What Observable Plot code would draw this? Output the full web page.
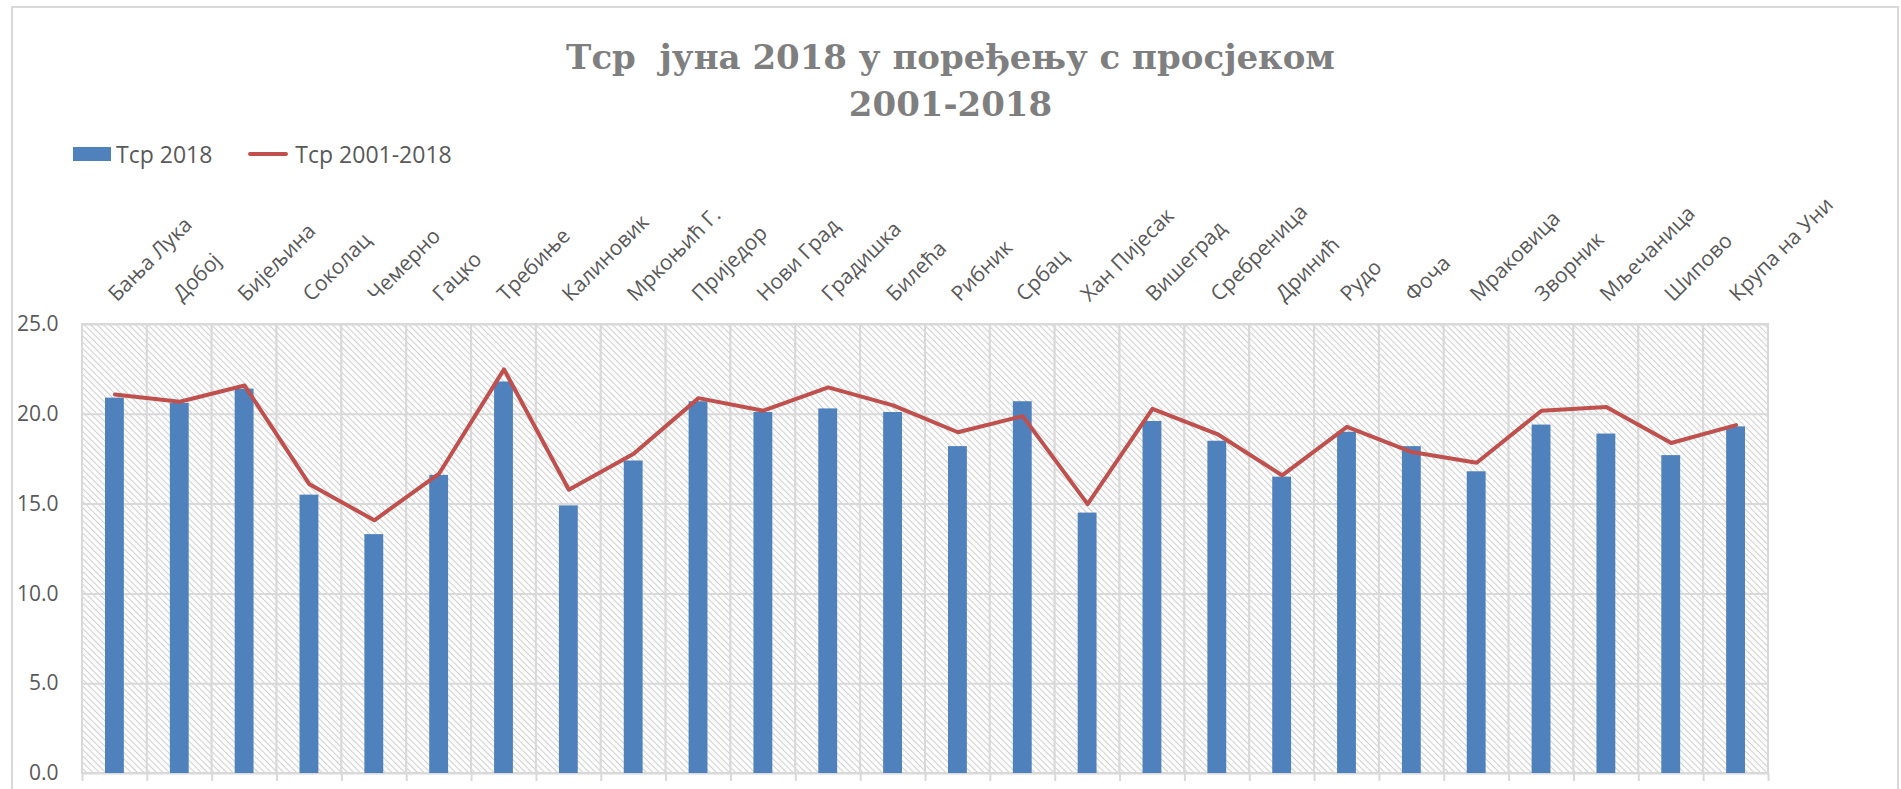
<!DOCTYPE html>
<html>
<head>
<meta charset="utf-8">
<script src="https://cdn.jsdelivr.net/npm/d3@7"></script>
<script src="https://cdn.jsdelivr.net/npm/@observablehq/plot@0.6"></script>
<style>
  html, body { margin: 0; padding: 0; background: #fff; }
  #chart { position: relative; width: 1901px; height: 789px; overflow: hidden; font-family: "Open Sans", sans-serif; color: #595959; }
  #border { position: absolute; left: 11px; top: 6px; width: 1888px; height: 900px; border: 2px solid #d9d9d9; box-sizing: border-box; }
  #title { position: absolute; left: 0; top: 34px; width: 1901px; text-align: center; font-family: "DejaVu Serif", serif; font-weight: bold; font-size: 34px; line-height: 47px; color: #7f7f7f; white-space: pre; }
  #legend { position: absolute; left: 73px; top: 141px; height: 26px; display: flex; align-items: center; font-size: 23px; color: #595959; }
  .sw-bar { width: 38px; height: 14px; background: #4f81bd; margin-right: 5px; }
  .sw-line { width: 40px; height: 4px; border-radius: 2px; background: #c0504d; margin-right: 7px; margin-left: 36px; }
  #plot { position: absolute; left: 0; top: 180px; }
</style>
</head>
<body>
<svg width="0" height="0" style="position:absolute">
  <defs>
    <pattern id="hatch" patternUnits="userSpaceOnUse" width="4.5" height="4.5" patternTransform="rotate(45)">
      <rect width="4.5" height="4.5" fill="#ffffff"></rect>
      <line x1="0" y1="2.25" x2="4.5" y2="2.25" stroke="#d0d0d0" stroke-width="1.1"></line>
    </pattern>
  </defs>
</svg>
<div id="chart">
  <div id="border"></div>
  <div id="title"></div>
  <div id="legend"></div>
  <div id="plot"></div>
</div>
<script>
const titleLines = ["Тср  јуна 2018 у поређењу с просјеком", "2001-2018"];
const seriesNames = ["Тср 2018", "Тср 2001-2018"];
const stations = ["Бања Лука","Добој","Бијељина","Соколац","Чемерно","Гацко","Требиње","Калиновик","Мркоњић Г.","Приједор","Нови Град","Градишка","Билећа","Рибник","Србац","Хан Пијесак","Вишеград","Сребреница","Дринић","Рудо","Фоча","Мраковица","Зворник","Мљечаница","Шипово","Крупа на Уни"];
const tsr2018 = [20.9,20.6,21.4,15.5,13.3,16.6,21.8,14.9,17.4,20.7,20.1,20.3,20.1,18.2,20.7,14.5,19.6,18.5,16.5,19.0,18.2,16.8,19.4,18.9,17.7,19.3];
const tsr2001_2018 = [21.1,20.7,21.6,16.1,14.1,16.7,22.5,15.8,17.8,20.9,20.2,21.5,20.5,19.0,19.9,15.0,20.3,18.9,16.6,19.3,17.9,17.3,20.2,20.4,18.4,19.4];
const yTicks = [0, 5, 10, 15, 20, 25];

// title & legend
document.getElementById("title").textContent = titleLines.join("\n");
const legend = document.getElementById("legend");
legend.innerHTML = `<div class="sw-bar"></div><span>${seriesNames[0]}</span><div class="sw-line"></div><span>${seriesNames[1]}</span>`;

const data = stations.map((s, i) => ({station: s, t2018: tsr2018[i], tavg: tsr2001_2018[i]}));

const W = 1901, H = 609, mL = 82, mR = 133, mT = 144, mB = 16;
const step = (W - mL - mR) / stations.length;

const plot = Plot.plot({
  width: W,
  height: H,
  marginTop: mT,
  marginBottom: mB,
  marginLeft: mL,
  marginRight: mR,
  style: {fontFamily: '"Open Sans", sans-serif', fontSize: "21px", color: "#595959", background: "transparent", overflow: "visible"},
  x: {type: "band", domain: stations, padding: 0, round: false},
  y: {domain: [0, 25]},
  marks: [
    Plot.barY(stations, {x: d => d, y1: 0, y2: 25, fill: "white", stroke: "#d9d9d9", strokeWidth: 2}),
    Plot.ruleY(yTicks, {stroke: "#d9d9d9", strokeWidth: 2}),
    Plot.axisX({anchor: "bottom", tickSize: 8, tickFormat: () => "", label: null, stroke: "#d9d9d9", strokeWidth: 2, dx: -step / 2}),
    Plot.axisX([stations[stations.length - 1]], {anchor: "bottom", tickSize: 8, tickFormat: () => "", label: null, stroke: "#d9d9d9", strokeWidth: 2, dx: step / 2}),
    Plot.barY(data, {x: "station", y: "t2018", fill: "#4f81bd", insetLeft: 23, insetRight: 23}),
    Plot.line(data, {x: "station", y: "tavg", stroke: "#c0504d", strokeWidth: 4, strokeLinejoin: "round", strokeLinecap: "round"}),
    Plot.axisY(yTicks, {tickSize: 0, tickPadding: 24, tickFormat: d3.format(".1f"), fontSize: 21, label: null}),
    Plot.text(stations, {x: d => d, frameAnchor: "top", dy: -22, dx: 2, rotate: -45, textAnchor: "start", lineAnchor: "bottom", fontSize: 21, fill: "#595959"})
  ]
});

// hatched plot background
const bg = plot.querySelector('g[aria-label="bar"]');
if (bg) {
  bg.setAttribute("fill", "url(#hatch)");
  bg.querySelectorAll("rect").forEach(r => r.removeAttribute("fill"));
}
document.getElementById("plot").appendChild(plot);
</script>
</body>
</html>
